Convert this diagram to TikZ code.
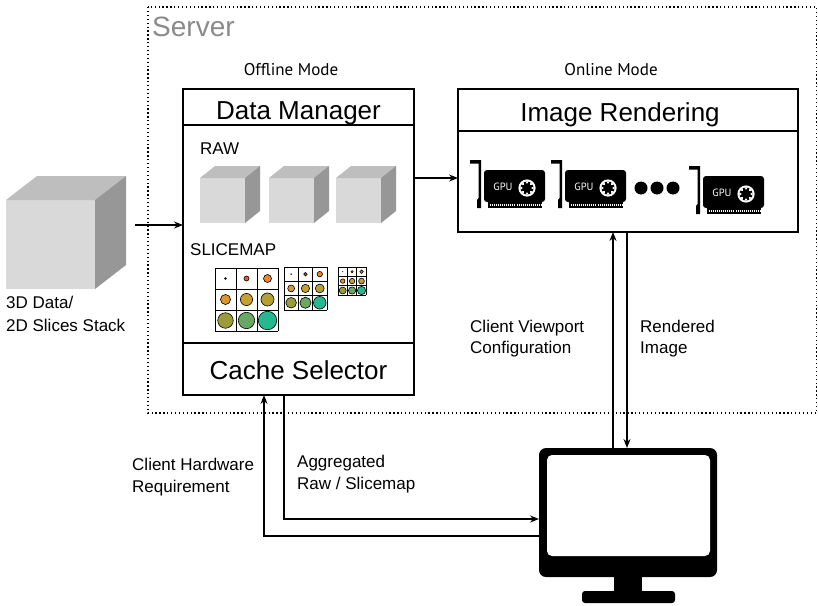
\documentclass[tikz,border=0pt]{standalone}
\usepackage{fontspec}
\setmainfont{Liberation Sans}
\newfontfamily\modefont{PT Sans}
\usetikzlibrary{arrows.meta,calc}

\definecolor{cubefront}{HTML}{D9D9D9}
\definecolor{cubetop}{HTML}{BEBEBE}
\definecolor{cubeside}{HTML}{979797}
\definecolor{servergray}{HTML}{8A8A8A}
\definecolor{smA}{HTML}{E8601C}
\definecolor{smB}{HTML}{EE851F}
\definecolor{smC}{HTML}{DC962C}
\definecolor{smD}{HTML}{C6A030}
\definecolor{smE}{HTML}{B4A034}
\definecolor{smF}{HTML}{9A9C3C}
\definecolor{smG}{HTML}{68A862}
\definecolor{smH}{HTML}{26B88E}

\tikzset{
  panel/.style={draw=black, line width=1.6pt, fill=white, inner sep=0pt, outer sep=0pt},
  panelline/.style={line width=1.6pt},
  arr/.style={line width=1.3pt, -{Stealth[length=9pt,width=7pt,inset=3pt]}},
  title/.style={inner sep=0pt, font=\fontsize{26}{30}\selectfont},
  lbl/.style={inner sep=0pt, font=\fontsize{17}{22}\selectfont},
  modelbl/.style={inner sep=0pt, font=\modefont\fontsize{17}{20}\selectfont},
  gridline/.style={line width=0.8pt},
  gpu/.pic={
    % mounting bracket
    \fill[black] (0,0) -- (11,0) -- (11,48) -- (7,48) -- (7,40) -- (8.5,38) -- (8.5,3.5) -- (0,3.5) -- cycle;
    % board and edge connector
    \fill[black, rounded corners=3pt] (14,10) -- (75,10) -- (75,42) -- (14,42) -- cycle;
    \fill[black] (18,41) rectangle (72,48);
    \draw[white, line width=1.6pt, dash pattern=on 1.1pt off 0.9pt] (19.5,45.2) -- (44,45.2);
    \draw[white, line width=1.6pt, dash pattern=on 1.1pt off 0.9pt] (46.5,45.2) -- (71,45.2);
    \node[text=white, inner sep=0pt, font=\modefont\fontsize{10.5}{11}\selectfont] (name) at (33,27) {GPU};
    % fan: white rim with inward notches
    \begin{scope}[shift={(57,28)}]
      \fill[white] (0,0) circle[radius=8.6];
      \fill[black] (0,0) circle[radius=6.6];
      \foreach \a in {0,45,...,315}
        \fill[white] (\a-15:6.9) -- (\a:4.2) -- (\a+15:6.9) -- cycle;
    \end{scope}
  }
}

% gray cube: front top-left (x,y), front size, depth dx, depth rise
\newcommand\graycube[5]{%
  \fill[cubefront] (#1,#2) rectangle (#1+#3,#2+#3);
  \fill[cubetop] (#1,#2) -- (#1+#4,#2-#5) -- (#1+#3+#4,#2-#5) -- (#1+#3,#2) -- cycle;
  \fill[cubeside] (#1+#3,#2) -- (#1+#3+#4,#2-#5) -- (#1+#3+#4,#2+#3-#5) -- (#1+#3,#2+#3) -- cycle;
}

% slice map grid: top-left (x,y), cell size
\newcommand\slicegrid[3]{%
  \foreach \r/\c/\f/\col in {0/1/0.12/smA, 0/2/0.19/smB,
      1/0/0.24/smC, 1/1/0.29/smD, 1/2/0.31/smE,
      2/0/0.37/smF, 2/1/0.39/smG, 2/2/0.44/smH}
    \filldraw[fill=\col, draw=black, line width=0.6pt]
      ({#1+(\c+0.5)*#3},{#2+(\r+0.5)*#3}) circle[radius=\f*#3];
  \fill[black] ({#1+0.5*#3},{#2+0.5*#3}) circle[radius=0.06*#3];
  \foreach \k in {0,1,2,3} {
    \draw[gridline] ({#1+\k*#3},#2) -- ({#1+\k*#3},{#2+3*#3});
    \draw[gridline] (#1,{#2+\k*#3}) -- ({#1+3*#3},{#2+\k*#3});
  }
}

\begin{document}
\begin{tikzpicture}[x=1pt,y=-1pt]
\useasboundingbox (0,0) rectangle (818,605);

% server region
\draw[line width=1.3pt, dash pattern=on 1.3pt off 2.6pt] (148,7) rectangle (816.5,413);
\node[inner sep=0pt, anchor=base west, text=servergray, font=\fontsize{28}{32}\selectfont] (server) at (152,36) {Server};
\node[modelbl, anchor=base] (offline) at (291,75) {Offline Mode};
\node[modelbl, anchor=base] (online) at (611,75) {Online Mode};

% input data
\graycube{6}{200}{89}{31}{24}
\node[lbl, anchor=base west, align=left] (datalbl) at (6,308) {3D Data/};
\node[lbl, anchor=base west] (slicelbl) at (6,331) {2D Slices Stack};
\coordinate (cubeout) at (135,225);

% data manager
\node[panel, minimum width=231, minimum height=306, anchor=north west] (dm) at (183,89) {};
\draw[panelline] (dm.west |- 0,125) -- (dm.east |- 0,125);
\draw[panelline] (dm.west |- 0,343) -- (dm.east |- 0,343);
\node[title, anchor=base] (dmtitle) at (298.5,119) {Data Manager};
\node[title, anchor=base] (cache) at (298.5,379) {Cache Selector};
\node[lbl, anchor=base west] (raw) at (200,154) {RAW};
\graycube{200}{178}{45}{15}{12}
\graycube{269}{178}{45}{15}{12}
\graycube{336}{178}{45}{15}{12}
\node[lbl, anchor=base west] (slicemap) at (190,255) {SLICEMAP};
\slicegrid{215}{268}{21}
\slicegrid{284}{267}{14.3}
\slicegrid{338}{267}{9.4}

% image rendering
\node[panel, minimum width=340, minimum height=143, anchor=north west] (ir) at (458,89) {};
\draw[panelline] (ir.west |- 0,131) -- (ir.east |- 0,131);
\node[title, anchor=base] (irtitle) at (620,121) {Image Rendering};
\pic (gA) at (470,160) {gpu};
\pic (gB) at (551,160) {gpu};
\foreach \x in {641,657,673}
  \fill[black] (\x,188) circle[radius=6.5];
\pic (gC) at (689,166) {gpu};

% client display
\node[fill=black, rounded corners=7pt, minimum width=178, minimum height=129, inner sep=0pt, outer sep=0pt, anchor=north west] (mon) at (539,448) {};
\fill[white, rounded corners=5pt] (547,455) rectangle (710,556);
\fill[black] (614,575) rectangle (642,593);
\fill[black, rounded corners=3pt] (582,591) rectangle (675,603);

% data flow
\draw[arr] (cubeout) -- (cubeout -| dm.west);
\coordinate (dmout) at (dm.east |- 0,178);
\draw[arr] (dmout) -- (dmout -| ir.west);
\draw[arr] (mon.north -| 613,0) -- (ir.south -| 613,0);
\draw[arr] (ir.south -| 627,0) -- (mon.north -| 627,0);
\draw[arr] (mon.west |- 0,536) -| (dm.south -| 264,0);
\draw[arr] (dm.south -| 284,0) |- (mon.west |- 0,519);

% connector labels
\node[lbl, anchor=base west] (vp1) at (470,332) {Client Viewport};
\node[lbl, anchor=base west] (vp2) at (470,353) {Configuration};
\node[lbl, anchor=base west] (ri1) at (640,332) {Rendered};
\node[lbl, anchor=base west] (ri2) at (640,353) {Image};
\node[lbl, anchor=base west] (hw1) at (132,470) {Client Hardware};
\node[lbl, anchor=base west] (hw2) at (132,492) {Requirement};
\node[lbl, anchor=base west] (ag1) at (297,467) {Aggregated};
\node[lbl, anchor=base west] (ag2) at (297,489) {Raw / Slicemap};
\end{tikzpicture}
\end{document}
